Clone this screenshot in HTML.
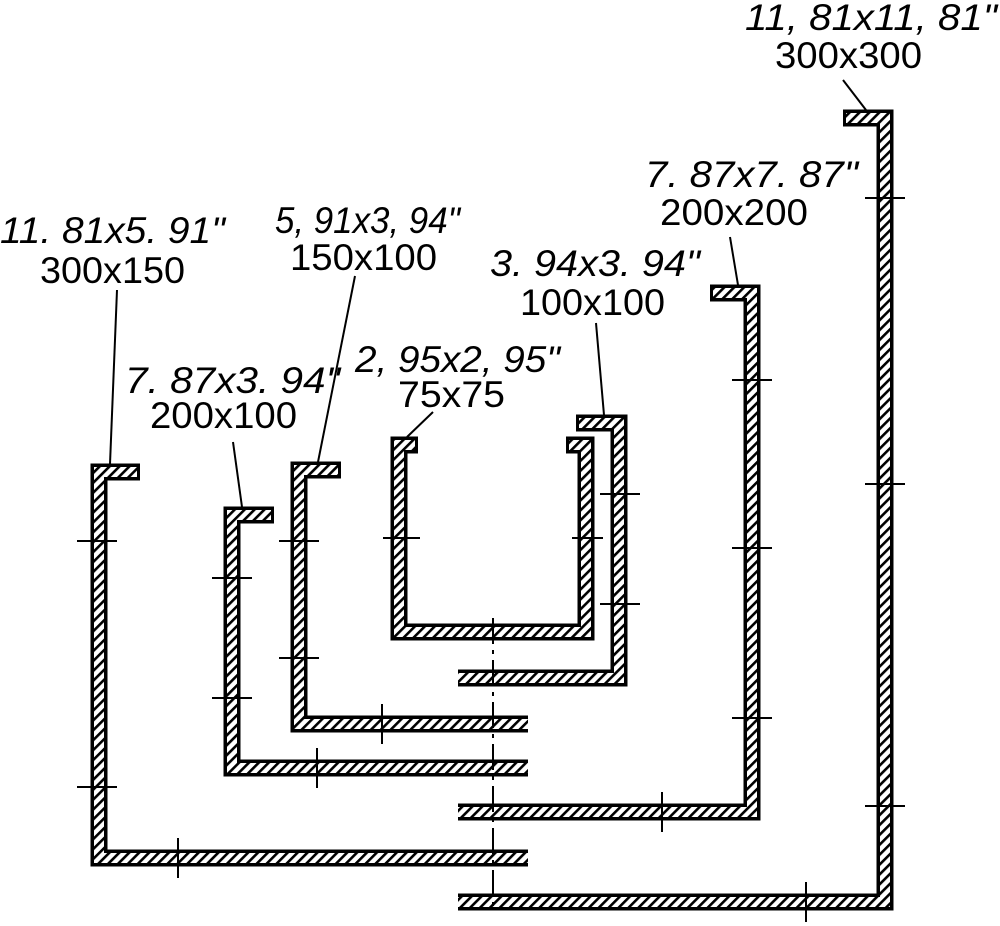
<!DOCTYPE html>
<html><head><meta charset="utf-8"><style>
html,body{margin:0;padding:0;background:#fff;}
svg{display:block}
text{font-family:"Liberation Sans",sans-serif;font-size:37px;fill:#000;}
.i{font-style:italic}
</style></head><body>
<svg width="1000" height="926" viewBox="0 0 1000 926" xmlns="http://www.w3.org/2000/svg">
<defs>
<pattern id="h" width="7" height="7" patternUnits="userSpaceOnUse" patternTransform="rotate(45)">
<rect width="7" height="7" fill="#fff"/>
<rect width="2.6" height="7" fill="#000"/>
</pattern>
</defs>
<g fill="none" stroke-linejoin="miter" stroke-linecap="butt">
<!-- outer black -->
<g stroke="#000" stroke-width="17">
<path d="M140,472 L99,472 L99,858 L528,858"/>
<path d="M274,515 L232,515 L232,768 L528,768"/>
<path d="M341,470 L299,470 L299,724 L528,724"/>
<path d="M418,445 L399,445 L399,632 L586,632 L586,445 L566,445"/>
<path d="M576,423 L619,423 L619,678 L458,678"/>
<path d="M710,293 L752,293 L752,812 L458,812"/>
<path d="M843,118 L885,118 L885,902 L458,902"/>
</g>
<g stroke="url(#h)" stroke-width="10">
<path d="M137,472 L99,472 L99,858 L528,858"/>
<path d="M271,515 L232,515 L232,768 L528,768"/>
<path d="M338,470 L299,470 L299,724 L528,724"/>
<path d="M415,445 L399,445 L399,632 L586,632 L586,445 L569,445"/>
<path d="M579,423 L619,423 L619,678 L458,678"/>
<path d="M713,293 L752,293 L752,812 L458,812"/>
<path d="M846,118 L885,118 L885,902 L458,902"/>
</g>
</g>
<!-- ticks -->
<g stroke="#000" stroke-width="2">
<path d="M77,541H117M77,787H117M178,838V878"/>
<path d="M212,578H252M212,698H252M317,748V788"/>
<path d="M279,541H319M279,658H319M382,704V744"/>
<path d="M383,538H420M572,538H603"/>
<path d="M600,494H640M600,604H640"/>
<path d="M732,380H772M732,548H772M732,718H772M662,792V832"/>
<path d="M865,198H905M865,484H905M865,806H905M806,882V922"/>
<path d="M493,618V910" stroke-dasharray="26,6,4,6"/>
</g>
<!-- leaders -->
<g stroke="#000" stroke-width="2">
<path d="M110,464L117,290"/>
<path d="M242,507L233,442"/>
<path d="M318,462L355,276"/>
<path d="M407,437L433,412"/>
<path d="M604,415L596,323"/>
<path d="M738,285L730,237"/>
<path d="M866,110L843,80"/>
</g>
<!-- labels -->
<text class="i" x="0" y="243" textLength="225" lengthAdjust="spacingAndGlyphs">11. 81x5. 91"</text>
<text x="40" y="283" textLength="145" lengthAdjust="spacingAndGlyphs">300x150</text>
<text class="i" x="275" y="233" textLength="185" lengthAdjust="spacingAndGlyphs">5, 91x3, 94"</text>
<text x="290" y="270" textLength="147" lengthAdjust="spacingAndGlyphs">150x100</text>
<text class="i" x="490" y="276" textLength="210" lengthAdjust="spacingAndGlyphs">3. 94x3. 94"</text>
<text x="520" y="315" textLength="145" lengthAdjust="spacingAndGlyphs">100x100</text>
<text class="i" x="125" y="393" textLength="215" lengthAdjust="spacingAndGlyphs">7. 87x3. 94"</text>
<text x="150" y="428" textLength="147" lengthAdjust="spacingAndGlyphs">200x100</text>
<text class="i" x="355" y="372" textLength="205" lengthAdjust="spacingAndGlyphs">2, 95x2, 95"</text>
<text x="398" y="407" textLength="107" lengthAdjust="spacingAndGlyphs">75x75</text>
<text class="i" x="645" y="187" textLength="213" lengthAdjust="spacingAndGlyphs">7. 87x7. 87"</text>
<text x="660" y="225" textLength="148" lengthAdjust="spacingAndGlyphs">200x200</text>
<text class="i" x="745" y="30" textLength="252" lengthAdjust="spacingAndGlyphs">11, 81x11, 81"</text>
<text x="775" y="68" textLength="147" lengthAdjust="spacingAndGlyphs">300x300</text>
</svg>
</body></html>
